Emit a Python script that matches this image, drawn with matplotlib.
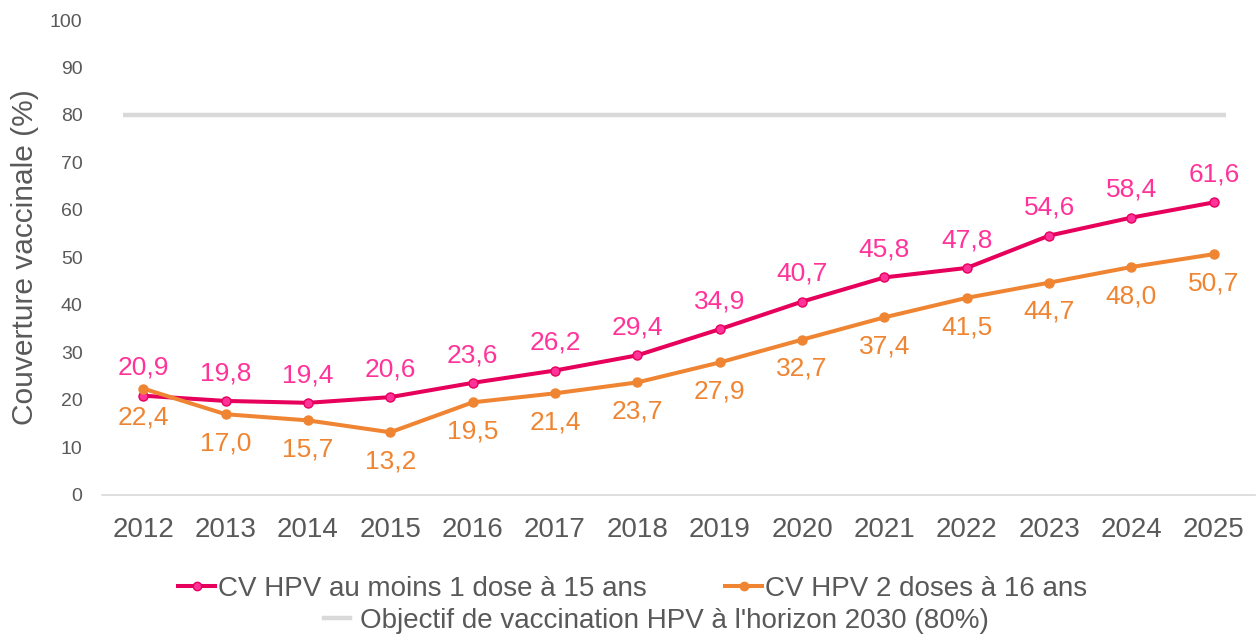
import matplotlib.pyplot as plt
from matplotlib.lines import Line2D

plt.rcParams['font.family'] = ['Liberation Sans', 'DejaVu Sans']

# données
annees = ["2012", "2013", "2014", "2015", "2016", "2017", "2018",
          "2019", "2020", "2021", "2022", "2023", "2024", "2025"]
cv_1dose_15ans = [20.9, 19.8, 19.4, 20.6, 23.6, 26.2, 29.4,
                  34.9, 40.7, 45.8, 47.8, 54.6, 58.4, 61.6]
cv_2doses_16ans = [22.4, 17.0, 15.7, 13.2, 19.5, 21.4, 23.7,
                   27.9, 32.7, 37.4, 41.5, 44.7, 48.0, 50.7]
objectif = 80

ROSE = "#E6005C"
ROSE_CLAIR = "#FF3399"
ORANGE = "#EF8532"
GRIS = "#D9D9D9"
TEXTE = "#595959"

fig = plt.figure(figsize=(12.6, 6.39), dpi=100)
ax = fig.add_axes([0.081, 0.2254, 0.915, 0.7433])

x = list(range(len(annees)))

# ligne objectif
ax.plot([-0.25, 13.15], [objectif, objectif], color=GRIS, lw=3.2, solid_capstyle="butt")

ax.plot(x, cv_1dose_15ans, color=ROSE, lw=2.9, marker="o", ms=6.5,
        mfc=ROSE_CLAIR, mec=ROSE, mew=1, zorder=3)
ax.plot(x, cv_2doses_16ans, color=ORANGE, lw=2.9, marker="o", ms=6.5,
        mfc=ORANGE, mec=ORANGE, zorder=3)

for xi, v in zip(x, cv_1dose_15ans):
    ax.annotate(f"{v:.1f}".replace(".", ","), (xi, v), xytext=(0, 20),
                textcoords="offset points", ha="center", va="center",
                fontsize=19, color=ROSE_CLAIR)
for xi, v in zip(x, cv_2doses_16ans):
    ax.annotate(f"{v:.1f}".replace(".", ","), (xi, v), xytext=(0, -21),
                textcoords="offset points", ha="center", va="center",
                fontsize=19, color=ORANGE)

ax.set_xlim(-0.5, 13.5)
ax.set_ylim(0, 100)
ax.set_yticks(range(0, 101, 10))
ax.set_xticks(x)
ax.set_xticklabels(annees)
ax.tick_params(axis="y", length=0, labelsize=14, labelcolor=TEXTE, pad=14)
ax.tick_params(axis="x", length=0, labelsize=20, labelcolor=TEXTE, pad=16)
for s in ["top", "right", "left"]:
    ax.spines[s].set_visible(False)
ax.spines["bottom"].set_color(GRIS)
ax.spines["bottom"].set_linewidth(1.2)
ax.set_ylabel("Couverture vaccinale (%)", fontsize=21.5, color=TEXTE, labelpad=8)

# légende
h1 = Line2D([], [], color=ROSE, lw=2.9, marker="o", ms=6, mfc=ROSE_CLAIR, mec=ROSE)
h2 = Line2D([], [], color=ORANGE, lw=2.9, marker="o", ms=6)
h3 = Line2D([], [], color=GRIS, lw=3.2)
fig.legend([h1, h2], ["CV HPV au moins 1 dose à 15 ans", "CV HPV 2 doses à 16 ans"],
           loc="center", bbox_to_anchor=(0.502, 0.078), ncol=2, frameon=False,
           fontsize=20, labelcolor=TEXTE, handlelength=1.36, handletextpad=0.1,
           columnspacing=2.8, borderpad=0, borderaxespad=0)
fig.legend([h3], ["Objectif de vaccination HPV à l'horizon 2030 (80%)"],
           loc="center", bbox_to_anchor=(0.521, 0.028), frameon=False,
           fontsize=20, labelcolor=TEXTE, handlelength=0.96, handletextpad=0.36,
           borderpad=0, borderaxespad=0)

plt.savefig("out.png", dpi=100)
